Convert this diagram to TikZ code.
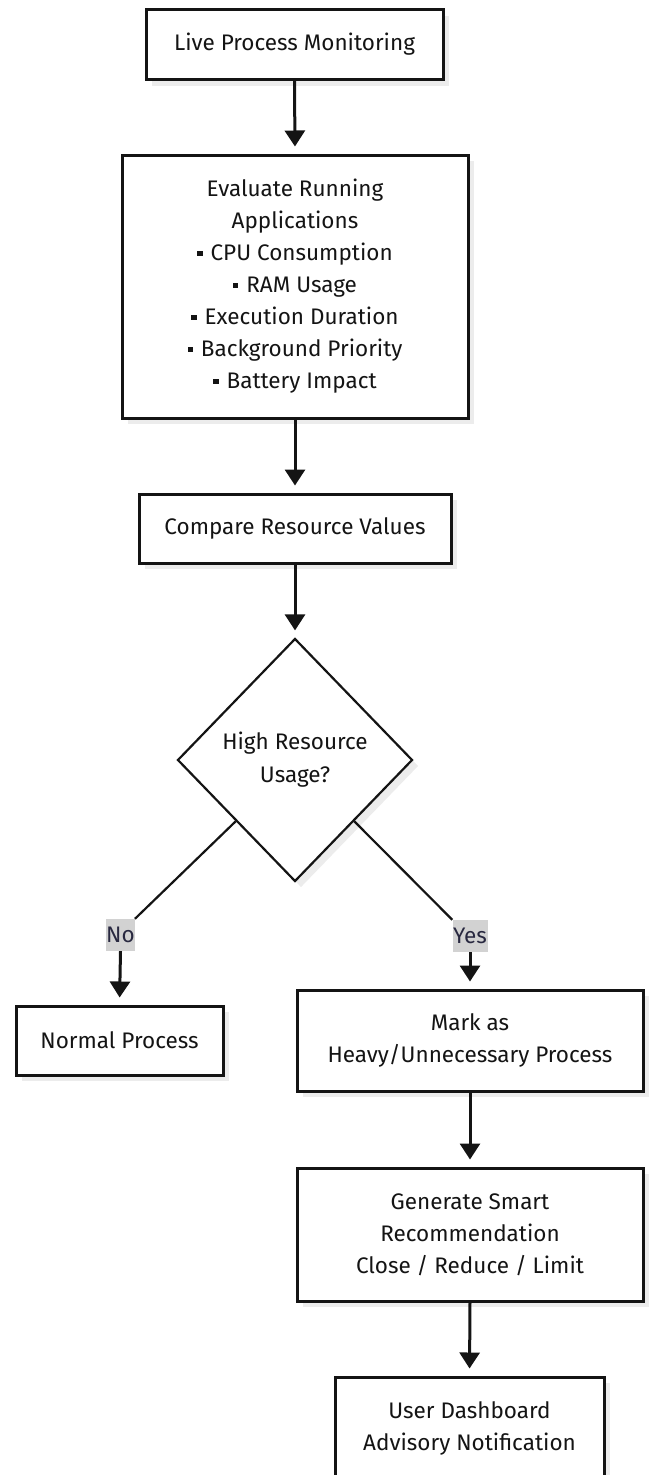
\documentclass[tikz,border=0pt]{standalone}
\usepackage{fontspec}
\setmainfont{Fira Sans}
\usetikzlibrary{arrows.meta,shapes.geometric,shadows}

\definecolor{ink}{RGB}{20,20,20}
\definecolor{shade}{RGB}{236,236,236}
\definecolor{tagfill}{RGB}{210,210,210}
\definecolor{tagtext}{RGB}{40,40,64}

\newcommand{\sqbullet}{\raisebox{0.2em}{\rule{0.24em}{0.24em}}\hspace{0.35em}}

\tikzset{
  boxshadow/.style={drop shadow={shadow xshift=6pt, shadow yshift=-6pt, fill=shade, opacity=1}},
  procbox/.style={draw=ink, line width=3pt, fill=white, boxshadow, rectangle,
    inner sep=0pt, align=center, text=ink,
    font=\fontsize{22.5}{32}\selectfont},
  decbox/.style={draw=ink, line width=2.2pt, fill=white, boxshadow, diamond,
    inner sep=0pt, align=center, text=ink,
    font=\fontsize{22.5}{33}\selectfont},
  flow/.style={draw=ink, line width=3pt, -{Triangle[width=20pt,length=16pt]}, shorten >=7pt},
  branch/.style={draw=ink, line width=2.2pt},
  tag/.style={fill=tagfill, text=tagtext, inner sep=0pt, minimum height=32pt,
    font=\fontsize{22.5}{26}\selectfont}
}

\begin{document}
\begin{tikzpicture}[x=1pt,y=-1pt]
\useasboundingbox (0,0) rectangle (649,1475);

% process steps
\node[procbox, minimum width=297pt, minimum height=70pt] (live) at (294.5,44.5)
  {Live Process Monitoring};
\node[procbox, minimum width=346pt, minimum height=263pt] (eval) at (295,286.5)
  {Evaluate Running\\Applications\\\sqbullet CPU Consumption\\\sqbullet RAM Usage\\\sqbullet Execution Duration\\\sqbullet Background Priority\\\sqbullet Battery Impact};
\node[procbox, minimum width=312pt, minimum height=69pt] (cmp) at (295,528.5)
  {Compare Resource Values};
\node[decbox, minimum width=235pt, minimum height=243pt] (dec) at (295,760)
  {High Resource\\Usage?};
\node[procbox, minimum width=207pt, minimum height=69pt] (normal) at (119.5,1040.5)
  {Normal Process};
\node[procbox, minimum width=346pt, minimum height=101pt] (mark) at (470,1040.5)
  {Mark as\\Heavy/Unnecessary Process};
\node[procbox, minimum width=346pt, minimum height=133pt] (gen) at (470,1234.5)
  {Generate Smart\\Recommendation\\Close / Reduce / Limit};
\node[procbox, minimum width=269pt, minimum height=102pt] (user) at (469.5,1428)
  {User Dashboard\\Advisory Notification};

% branch labels
\node[tag, minimum width=27pt] (no) at (120.5,935) {No};
\node[tag, minimum width=35pt] (yes) at (470,936) {Yes};

% connectors
\draw[flow] (live.south) -- (eval.north);
\draw[flow] (eval.south) -- (cmp.north);
\draw[flow] (cmp.south) -- (dec.north);
\draw[branch] (dec.south west) -- (no.north east);
\draw[flow] (no.south) -- (normal.north);
\draw[branch] (dec.south east) -- (yes.north west);
\draw[flow] (yes.south) -- (mark.north);
\draw[flow] (mark.south) -- (gen.north);
\draw[flow] (gen.south) -- (user.north);
\end{tikzpicture}
\end{document}
